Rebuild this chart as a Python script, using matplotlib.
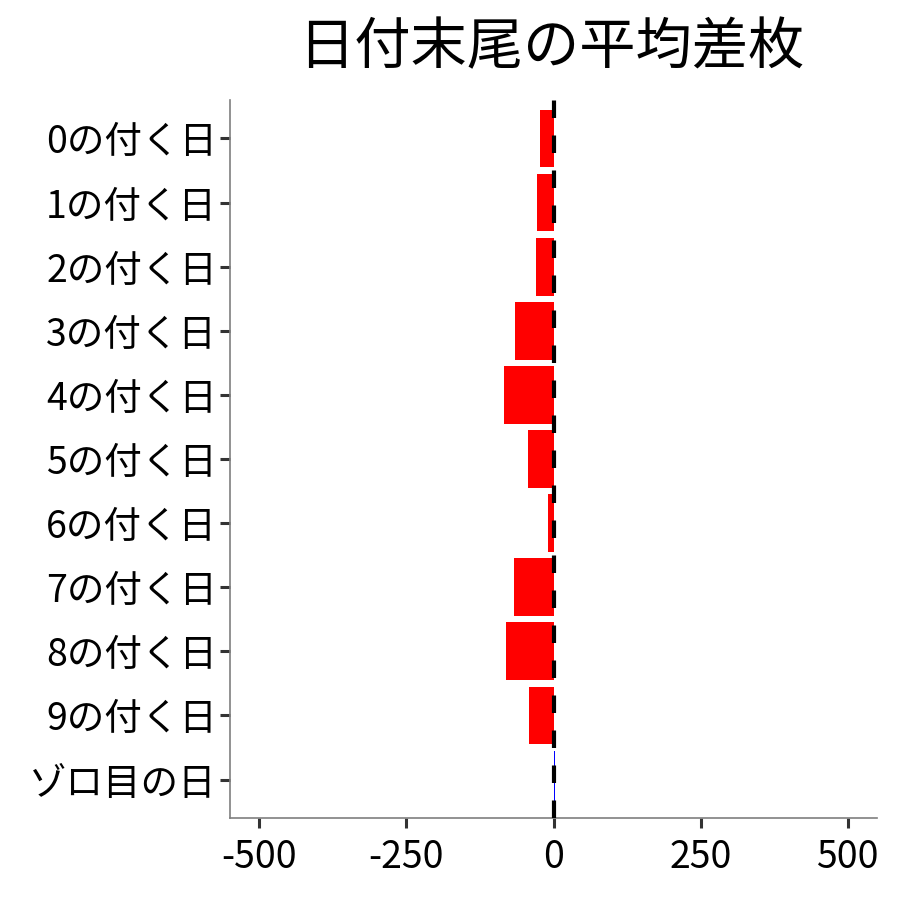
import matplotlib
matplotlib.use("Agg")
import matplotlib.pyplot as plt

plt.rcParams["font.family"] = ["Noto Sans CJK JP", "DejaVu Sans"]
plt.rcParams["axes.unicode_minus"] = False

categories = ["0の付く日", "1の付く日", "2の付く日", "3の付く日", "4の付く日",
              "5の付く日", "6の付く日", "7の付く日", "8の付く日", "9の付く日",
              "ゾロ目の日"]
values = [-23, -28, -30, -66, -85, -43, -10, -68, -80, -42, 2.5]
xticks = [-500, -250, 0, 250, 500]

colors = ["red" if v < 0 else "blue" for v in values]

fig = plt.figure(figsize=(9, 9), dpi=100)
ax = fig.add_axes([0.2556, 0.0911, 0.7189, 0.7978])

ypos = list(range(len(categories)))
ax.barh(ypos, values, height=0.9, color=colors, zorder=1)
line = ax.axvline(0, color="black", lw=3, zorder=3)
line.set_dashes([4.2, 4.2])

ax.set_yticks(ypos)
ax.set_yticklabels(categories)
ax.set_ylim(len(categories) - 0.4, -0.6)
ax.set_xlim(-550, 550)
ax.set_xticks(xticks)
ax.set_xticklabels([str(t) for t in xticks])

ax.tick_params(axis="both", labelsize=27, color="#333333", width=2.2, length=7.5,
               labelcolor="black")
ax.tick_params(axis="x", pad=7)
ax.tick_params(axis="y", pad=2)
for side in ["top", "right"]:
    ax.spines[side].set_visible(False)
for side in ["left", "bottom"]:
    ax.spines[side].set_color("#7f7f7f")
    ax.spines[side].set_linewidth(1.2)

fig.suptitle("日付末尾の平均差枚", fontsize=40.5, x=0.613, y=0.978)

fig.savefig("out.png", dpi=100)
